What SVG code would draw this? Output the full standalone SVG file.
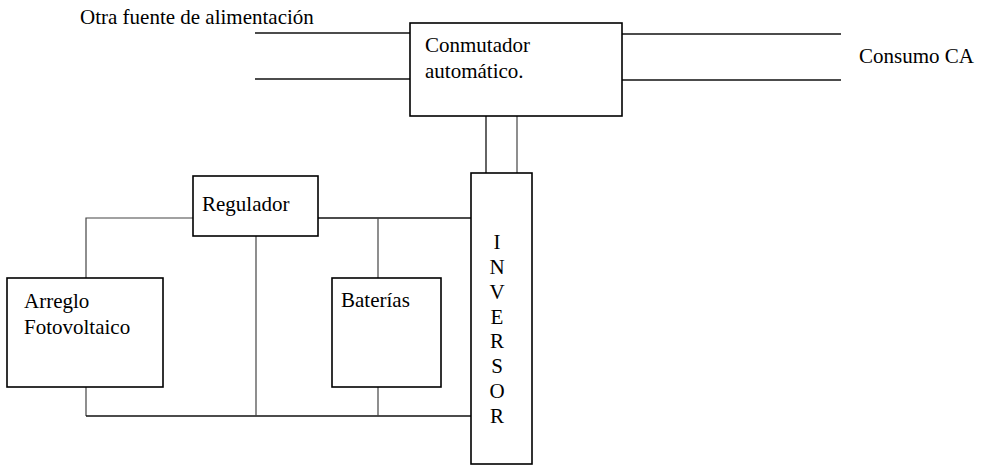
<svg xmlns="http://www.w3.org/2000/svg" width="983" height="465" viewBox="0 0 983 465">
  <style>
    .box { fill: #ffffff; stroke: #000000; stroke-width: 1.6; }
    .wire { fill: none; stroke: #111111; stroke-width: 1.3; }
    .tap { fill: none; stroke: #444444; stroke-width: 1.2; }
    text { font-family: 'Liberation Serif', 'Times New Roman', Times, serif; font-size: 21px; fill: #000000; }
  </style>
  <rect width="983" height="465" fill="#ffffff"/>

  <!-- wiring between the blocks -->
  <g id="connectors">
    <!-- alternate supply into the transfer switch -->
    <line class="wire" x1="255" y1="33" x2="410" y2="33"/>
    <line class="wire" x1="255" y1="79" x2="410" y2="79"/>
    <!-- AC load side -->
    <line class="wire" x1="622" y1="34" x2="841" y2="34"/>
    <line class="wire" x1="622" y1="80" x2="841" y2="80"/>
    <!-- inverter to transfer switch -->
    <line class="wire" x1="486" y1="116" x2="486" y2="173"/>
    <line class="tap" x1="517" y1="116" x2="517" y2="173"/>
    <!-- PV array to regulator -->
    <polyline class="tap" points="86,278 86,218 193,218"/>
    <!-- regulator to inverter, battery tap -->
    <line class="wire" x1="318" y1="218" x2="471" y2="218"/>
    <line class="tap" x1="378" y1="218" x2="378" y2="278"/>
    <!-- return bus -->
    <polyline class="tap" points="86,387 86,416"/>
    <line class="wire" x1="86" y1="416" x2="471" y2="416"/>
    <line class="tap" x1="256" y1="236" x2="256" y2="416"/>
    <line class="tap" x1="378" y1="387" x2="378" y2="416"/>
  </g>

  <text x="80" y="24">Otra fuente de alimentación</text>
  <text x="859" y="63">Consumo CA</text>

  <g id="conmutador">
    <rect class="box" x="410" y="23" width="212" height="93"/>
    <text x="425" y="52">Conmutador</text>
    <text x="425" y="78">automático.</text>
  </g>

  <g id="regulador">
    <rect class="box" x="193" y="176" width="125" height="60"/>
    <text x="202" y="211">Regulador</text>
  </g>

  <g id="arreglo">
    <rect class="box" x="7" y="278" width="156" height="109"/>
    <text x="24" y="308">Arreglo</text>
    <text x="24" y="334">Fotovoltaico</text>
  </g>

  <g id="baterias">
    <rect class="box" x="332" y="278" width="109" height="109"/>
    <text x="341" y="307">Baterías</text>
  </g>

  <g id="inversor">
    <rect class="box" x="471" y="173" width="61" height="291"/>
    <g text-anchor="middle">
      <text x="497" y="249">I</text>
      <text x="497" y="274">N</text>
      <text x="497" y="299">V</text>
      <text x="497" y="324">E</text>
      <text x="497" y="348">R</text>
      <text x="497" y="373">S</text>
      <text x="497" y="398">O</text>
      <text x="497" y="423">R</text>
    </g>
  </g>
</svg>
